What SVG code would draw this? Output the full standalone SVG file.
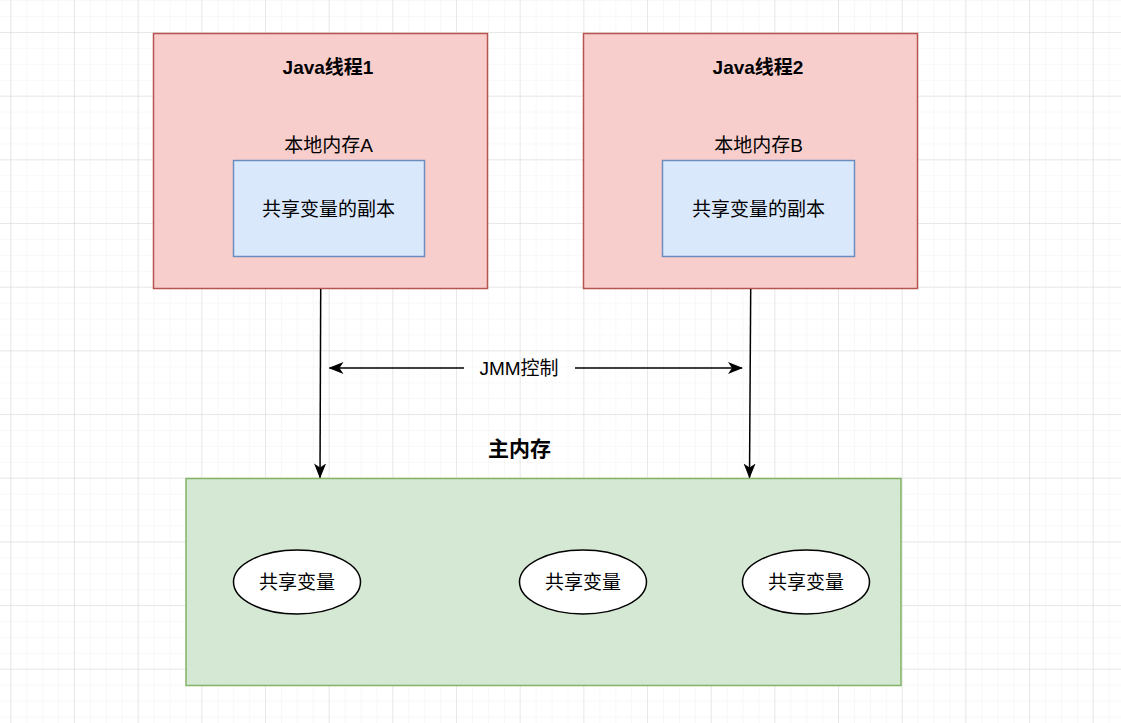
<svg xmlns="http://www.w3.org/2000/svg" width="1121" height="723" viewBox="0 0 1121 723">
<style>
.t{font-family:"Liberation Sans","Noto Sans CJK SC",sans-serif;font-size:19px;fill:#000;text-anchor:middle}
.b{font-weight:bold}
.thread{fill:#f8cecc;stroke:#b85450;stroke-width:1.5}
.inner{fill:#dae8fc;stroke:#6c8ebf;stroke-width:1.5}
.ell{fill:#fff;stroke:#000;stroke-width:1.5}
.edge{fill:none;stroke:#000;stroke-width:1.5}
</style>
<defs>
<pattern id="minor" x="10.3" y="32" width="15.92" height="15.92" patternUnits="userSpaceOnUse">
<path d="M0 0H15.92M0 0V15.92" fill="none" stroke="#f1f1f1" stroke-width="1"/>
</pattern>
<pattern id="major" x="10.3" y="32" width="63.67" height="63.67" patternUnits="userSpaceOnUse">
<path d="M0 0H63.67M0 0V63.67" fill="none" stroke="#d8d8d8" stroke-width="1"/>
</pattern>
<marker id="arr" viewBox="0 0 15 12" refX="14" refY="6" markerWidth="15" markerHeight="12" markerUnits="userSpaceOnUse" orient="auto">
<path d="M0 0L15 6L0 12L4 6Z" fill="#000"/>
</marker>
</defs>
<rect width="1121" height="723" fill="#fff"/>
<rect width="1121" height="723" fill="url(#minor)"/>
<rect width="1121" height="723" fill="url(#major)"/>

<g id="thread1">
<rect class="thread" x="153.5" y="33.5" width="334" height="255"/>
<text class="t b" x="328" y="74">Java线程1</text>
<text class="t" x="328.5" y="152">本地内存A</text>
<rect class="inner" x="233.5" y="160.5" width="191" height="96"/>
<text class="t" x="328.5" y="216">共享变量的副本</text>
</g>

<g id="thread2">
<rect class="thread" x="583.5" y="33.5" width="334" height="255"/>
<text class="t b" x="758" y="74">Java线程2</text>
<text class="t" x="758.5" y="152">本地内存B</text>
<rect class="inner" x="662.5" y="160.5" width="192" height="96"/>
<text class="t" x="758.5" y="216">共享变量的副本</text>
</g>

<g id="mainMemory">
<text class="t b" x="519.5" y="456" style="font-size:21px">主内存</text>
<rect x="186" y="478.5" width="715" height="207" fill="#d5e8d4" stroke="#82b366" stroke-width="1.5"/>
</g>

<g id="var1">
<ellipse class="ell" cx="297" cy="582" rx="63.5" ry="32"/>
<text class="t" x="297" y="589">共享变量</text>
</g>
<g id="var2">
<ellipse class="ell" cx="583" cy="582" rx="63.5" ry="32"/>
<text class="t" x="583" y="589">共享变量</text>
</g>
<g id="var3">
<ellipse class="ell" cx="806" cy="582" rx="63.5" ry="32"/>
<text class="t" x="806" y="589">共享变量</text>
</g>

<g id="connectors">
<path class="edge" d="M320.7 289L320 477.5" marker-end="url(#arr)"/>
<path class="edge" d="M750.7 289L749.5 477.5" marker-end="url(#arr)"/>
<path class="edge" d="M464 368H329.5" marker-end="url(#arr)"/>
<path class="edge" d="M575 368H742" marker-end="url(#arr)"/>
<text class="t" x="519" y="375">JMM控制</text>
</g>
</svg>
